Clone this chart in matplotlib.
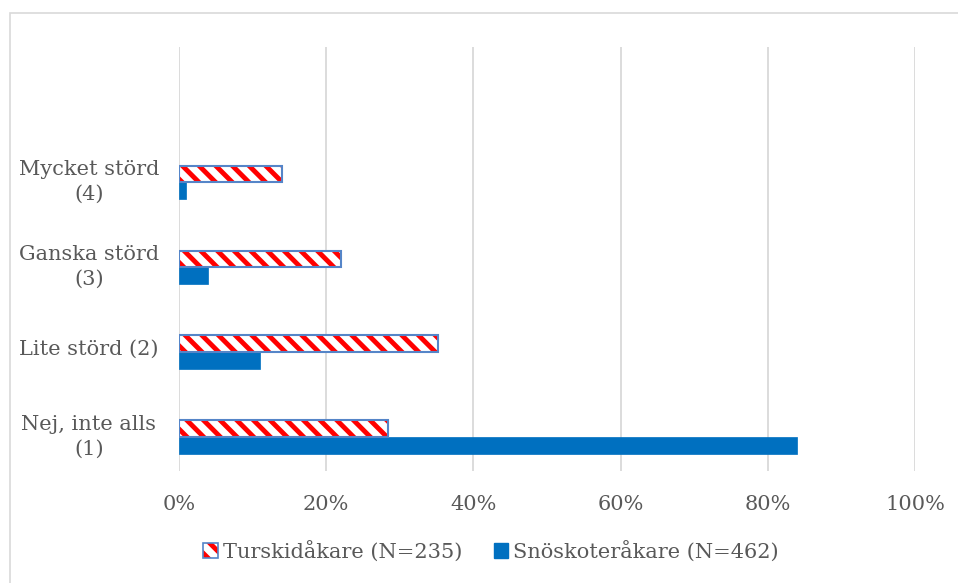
import matplotlib
matplotlib.use('Agg')
import matplotlib.pyplot as plt
from matplotlib.patches import Patch, Rectangle
from matplotlib.legend_handler import HandlerTuple
import numpy as np

categories = ['Nej, inte alls\n(1)', 'Lite störd (2)', 'Ganska störd\n(3)', 'Mycket störd\n(4)']
turskid = [28.4, 35.2, 22.0, 14.0]
snoskoter = [84.0, 11.0, 4.0, 1.0]
series_names = ['Turskidåkare (N=235)', 'Snöskoteråkare (N=462)']
xticks = [0, 20, 40, 60, 80, 100]

text_col = '#595959'
blue = '#0070C0'
outline = '#5585C8'

plt.rcParams['font.family'] = ['DejaVu Serif']
plt.rcParams['hatch.linewidth'] = 3.5

fig = plt.figure(figsize=(9.58, 5.83), dpi=100)
ax = fig.add_axes([179/958, 1 - 471/583, (915 - 179)/958, (471 - 47)/583])

y = np.arange(len(categories))
h = 0.195
# hatched bars: red stripes, then blue outline on top
ax.barh(y + h/2, turskid, height=h, color='white', edgecolor='red', hatch='\\\\', linewidth=0, zorder=3)
ax.barh(y + h/2, turskid, height=h, fill=False, edgecolor=outline, linewidth=1.5, zorder=4)
ax.barh(y - h/2, snoskoter, height=h, color=blue, edgecolor=blue, linewidth=0.5, zorder=3)

ax.set_xlim(0, 100)
ax.set_ylim(-0.4, 4.59)
ax.set_xticks(xticks)
ax.set_xticklabels([f'{v}%' for v in xticks])
ax.set_yticks(y + 0.06)
ax.set_yticklabels(categories, linespacing=1.4)
for lab in ax.get_yticklabels():
    lab.set_horizontalalignment('center')
    lab.set_multialignment('center')
ax.tick_params(axis='y', length=0, pad=65, labelsize=15, labelcolor=text_col)
ax.tick_params(axis='x', length=0, pad=17, labelsize=15, labelcolor=text_col)
ax.grid(axis='x', color='#D9D9D9', linewidth=1.3, zorder=0)
ax.set_axisbelow(True)
for s in ax.spines.values():
    s.set_visible(False)

# chart border
fig.patches.append(Rectangle((10/958, -0.1), 1.2, 1 - 13/583 + 0.1, transform=fig.transFigure,
                             fill=False, edgecolor='#D9D9D9', linewidth=1.2))

h1 = (Patch(facecolor='white', edgecolor='red', hatch='\\\\', linewidth=0),
      Patch(fill=False, edgecolor=outline, linewidth=1.2))
h2 = Patch(facecolor=blue, edgecolor=blue)
fig.legend([h1, h2], series_names, loc='center', bbox_to_anchor=(491/958, 1 - 551/583),
           ncol=2, frameon=False, fontsize=15, labelcolor=text_col,
           handlelength=0.7, handleheight=0.7, handletextpad=0.25, columnspacing=1.5,
           handler_map={tuple: HandlerTuple(ndivide=1, pad=0)})

fig.savefig('out.png', dpi=100)
